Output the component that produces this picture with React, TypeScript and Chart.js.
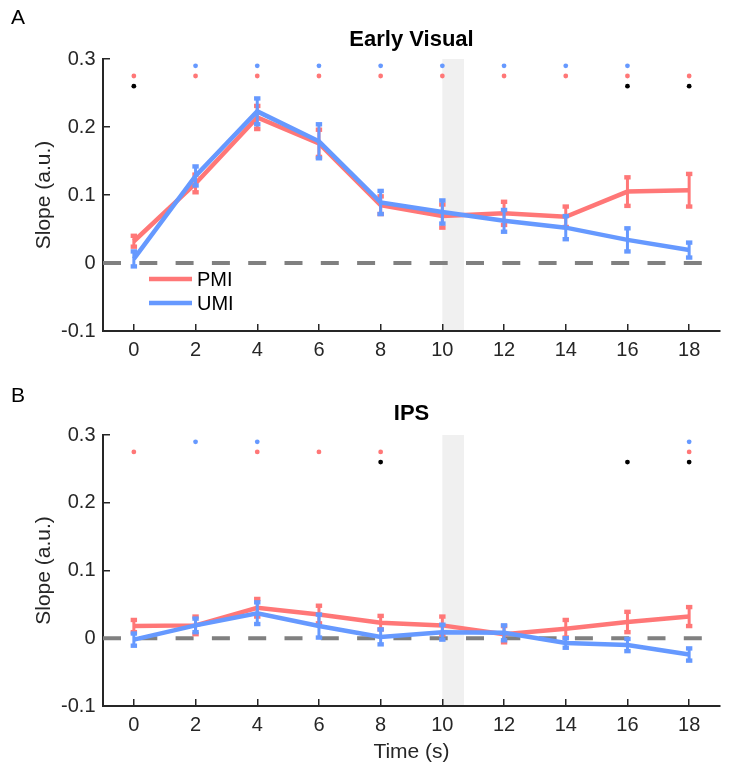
import React, { useEffect, useRef } from "react";
import { Chart, registerables } from "chart.js";

Chart.register(...registerables);

// ---------- data ----------
const times = [0, 2, 4, 6, 8, 10, 12, 14, 16, 18];
const xTicks = [0, 2, 4, 6, 8, 10, 12, 14, 16, 18];
const xTickLabels = ["0", "2", "4", "6", "8", "10", "12", "14", "16", "18"];
const yTicks = [-0.1, 0, 0.1, 0.2, 0.3];
const yTickLabels = ["-0.1", "0", "0.1", "0.2", "0.3"];
const seriesLabels = ["PMI", "UMI"];
const panelTitles = ["Early Visual", "IPS"];
const panelLetters = ["A", "B"];
const xAxisTitle = "Time (s)";
const yAxisTitle = "Slope (a.u.)";
const shadeRange = [10, 10.7];

// Panel A (Early Visual)
const pmiA = [0.032, 0.117, 0.214, 0.176, 0.085, 0.069, 0.073, 0.068, 0.105, 0.107];
const pmiErrA = [0.008, 0.013, 0.017, 0.02, 0.013, 0.017, 0.017, 0.015, 0.021, 0.024];
const umiA = [0.006, 0.128, 0.223, 0.179, 0.089, 0.075, 0.062, 0.052, 0.034, 0.019];
const umiErrA = [0.011, 0.014, 0.019, 0.025, 0.017, 0.017, 0.016, 0.017, 0.017, 0.011];
const sigUmiA = [2, 4, 6, 8, 10, 12, 14, 16];
const sigPmiA = [0, 2, 4, 6, 8, 10, 12, 14, 16, 18];
const sigDiffA = [0, 16, 18];

// Panel B (IPS)
const pmiB = [0.018, 0.019, 0.045, 0.035, 0.023, 0.019, 0.006, 0.014, 0.024, 0.032];
const pmiErrB = [0.009, 0.013, 0.013, 0.013, 0.01, 0.013, 0.012, 0.013, 0.015, 0.014];
const umiB = [-0.002, 0.019, 0.037, 0.018, 0.002, 0.009, 0.008, -0.007, -0.01, -0.024];
const umiErrB = [0.009, 0.01, 0.016, 0.017, 0.011, 0.011, 0.011, 0.007, 0.009, 0.009];
const sigUmiB = [2, 4, 18];
const sigPmiB = [0, 4, 6, 8, 18];
const sigDiffB = [8, 16, 18];

// significance row levels (data units)
const sigLevelUmi = 0.29;
const sigLevelPmi = 0.275;
const sigLevelDiff = 0.26;

// ---------- style ----------
const RED = "#FF7777";
const BLUE = "#6699FF";
const AXIS = "#262626";
const FONT = "'Liberation Sans', Arial, Helvetica, sans-serif";

const shadePlugin = {
  id: "shade",
  beforeDraw(chart: any) {
    const { ctx, chartArea, scales } = chart;
    const x1 = scales.x.getPixelForValue(shadeRange[0]);
    const x2 = scales.x.getPixelForValue(shadeRange[1]);
    ctx.save();
    ctx.fillStyle = "#f0f0f0";
    ctx.fillRect(x1, chartArea.top, x2 - x1, chartArea.bottom - chartArea.top);
    ctx.restore();
  },
};

const zeroLinePlugin = {
  id: "zeroLine",
  beforeDatasetsDraw(chart: any) {
    const { ctx, chartArea, scales } = chart;
    const y = scales.y.getPixelForValue(0);
    ctx.save();
    ctx.strokeStyle = "#808080";
    ctx.lineWidth = 4;
    ctx.setLineDash([18, 18.3]);
    ctx.beginPath();
    ctx.moveTo(chartArea.left, y);
    ctx.lineTo(chartArea.right, y);
    ctx.stroke();
    ctx.restore();
  },
};

const errorBarPlugin = {
  id: "errorBars",
  afterDatasetDraw(chart: any, args: any) {
    const ds: any = chart.data.datasets[args.index];
    if (!ds.err) return;
    const { ctx, scales } = chart;
    ctx.save();
    ctx.strokeStyle = ds.borderColor;
    ctx.fillStyle = ds.borderColor;
    ctx.lineWidth = 3;
    ds.data.forEach((pt: any, i: number) => {
      const x = scales.x.getPixelForValue(pt.x);
      const yT = scales.y.getPixelForValue(pt.y + ds.err[i]);
      const yB = scales.y.getPixelForValue(pt.y - ds.err[i]);
      ctx.beginPath();
      ctx.moveTo(x, yT);
      ctx.lineTo(x, yB);
      ctx.stroke();
      ctx.fillRect(x - 3.2, yT - 2.2, 6.4, 4.4);
      ctx.fillRect(x - 3.2, yB - 2.2, 6.4, 4.4);
    });
    ctx.restore();
  },
};

const legendPlugin = {
  id: "innerLegend",
  afterDraw(chart: any, _args: any, opts: any) {
    if (!opts || !opts.show) return;
    const { ctx, chartArea } = chart;
    const series = chart.data.datasets.filter((d: any) => d.err);
    ctx.save();
    series.forEach((d: any, i: number) => {
      const y = chartArea.bottom - 52 + i * 24;
      ctx.strokeStyle = d.borderColor;
      ctx.lineWidth = 4.5;
      ctx.beginPath();
      ctx.moveTo(chartArea.left + 46, y);
      ctx.lineTo(chartArea.left + 89, y);
      ctx.stroke();
      ctx.fillStyle = "#000";
      ctx.font = `20px ${FONT}`;
      ctx.textAlign = "left";
      ctx.textBaseline = "middle";
      ctx.fillText(d.label, chartArea.left + 94, y + 1);
    });
    ctx.restore();
  },
};

const letterPlugin = {
  id: "panelLetter",
  afterDraw(chart: any, _args: any, opts: any) {
    if (!opts || !opts.text) return;
    const { ctx } = chart;
    ctx.save();
    ctx.fillStyle = "#000";
    ctx.font = `21px ${FONT}`;
    ctx.textAlign = "left";
    ctx.textBaseline = "middle";
    ctx.fillText(opts.text, 11, opts.y);
    ctx.restore();
  },
};

type PanelProps = {
  idx: number;
  pmi: number[];
  pmiErr: number[];
  umi: number[];
  umiErr: number[];
  sigUmi: number[];
  sigPmi: number[];
  sigDiff: number[];
  height: number;
  xAxisHeight: number;
  titlePad: { top: number; bottom: number };
  showXTitle: boolean;
  showLegend: boolean;
  letterY: number;
};

function Panel(p: PanelProps) {
  const ref = useRef<HTMLCanvasElement | null>(null);
  useEffect(() => {
    if (!ref.current) return;
    const lineDs = (label: string, vals: number[], err: number[], color: string, order: number) => ({
      type: "line",
      label,
      data: times.map((t, i) => ({ x: t, y: vals[i] })),
      err,
      borderColor: color,
      backgroundColor: color,
      borderWidth: 4.5,
      pointRadius: 0,
      tension: 0,
      order,
      clip: false,
    });
    const dotDs = (xs: number[], level: number, color: string) => ({
      type: "scatter",
      label: "",
      data: xs.map((x) => ({ x, y: level })),
      pointRadius: 2.4,
      pointBackgroundColor: color,
      pointBorderWidth: 0,
      borderColor: color,
      showLine: false,
      order: 0,
      clip: false,
    });
    const tickFont = { family: FONT, size: 20 };
    const chart = new Chart(ref.current, {
      type: "line",
      data: {
        datasets: [
          lineDs(seriesLabels[0], p.pmi, p.pmiErr, RED, 2),
          lineDs(seriesLabels[1], p.umi, p.umiErr, BLUE, 1),
          dotDs(p.sigUmi, sigLevelUmi, BLUE),
          dotDs(p.sigPmi, sigLevelPmi, RED),
          dotDs(p.sigDiff, sigLevelDiff, "#000000"),
        ] as any,
      },
      options: {
        responsive: false,
        animation: false,
        devicePixelRatio: 1,
        layout: { padding: { left: 0, right: 29, top: 0, bottom: 0 } },
        plugins: {
          legend: { display: false },
          tooltip: { enabled: false },
          title: {
            display: true,
            text: panelTitles[p.idx],
            fullSize: false,
            color: "#000",
            font: { family: FONT, size: 22, weight: "bold" },
            padding: p.titlePad,
          },
          innerLegend: { show: p.showLegend },
          panelLetter: { text: panelLetters[p.idx], y: p.letterY },
        } as any,
        scales: {
          x: {
            type: "linear",
            min: -1,
            max: 19,
            afterBuildTicks: (s: any) => {
              s.ticks = xTicks.map((v) => ({ value: v }));
            },
            afterFit: (s: any) => {
              s.height = p.xAxisHeight;
            },
            ticks: {
              callback: (_v: any, i: number) => xTickLabels[i],
              font: tickFont,
              color: AXIS,
              padding: 14.5,
              maxRotation: 0,
              autoSkip: false,
            },
            grid: {
              display: true,
              drawOnChartArea: false,
              drawTicks: true,
              tickLength: -7,
              color: AXIS,
              lineWidth: 1.5,
            },
            border: { display: true, color: AXIS, width: 2 },
            title: {
              display: p.showXTitle,
              text: xAxisTitle,
              color: AXIS,
              font: { family: FONT, size: 21 },
              padding: { top: 0, bottom: 11.4 },
            },
          },
          y: {
            type: "linear",
            min: -0.1,
            max: 0.3,
            afterBuildTicks: (s: any) => {
              s.ticks = yTicks.map((v) => ({ value: v }));
            },
            afterFit: (s: any) => {
              s.width = 103;
            },
            ticks: {
              callback: (_v: any, i: number) => yTickLabels[i],
              font: tickFont,
              color: AXIS,
              padding: 14.5,
              autoSkip: false,
            },
            grid: {
              display: true,
              drawOnChartArea: false,
              drawTicks: true,
              tickLength: -7,
              color: AXIS,
              lineWidth: 1.5,
            },
            border: { display: true, color: AXIS, width: 2 },
            title: {
              display: true,
              text: yAxisTitle,
              color: AXIS,
              font: { family: FONT, size: 21 },
              padding: { top: 31.4, bottom: 0 },
            },
          },
        },
      } as any,
      plugins: [shadePlugin, zeroLinePlugin, errorBarPlugin, legendPlugin, letterPlugin],
    });
    return () => chart.destroy();
  }, []);
  return (
    <canvas
      ref={ref}
      width={749}
      height={p.height}
      style={{ display: "block", width: 749, height: p.height }}
    />
  );
}

export default function App() {
  return (
    <div style={{ position: "absolute", left: 0, top: 0, width: 749, height: 776, background: "#fff" }}>
      <Panel
        idx={0}
        pmi={pmiA}
        pmiErr={pmiErrA}
        umi={umiA}
        umiErr={umiErrA}
        sigUmi={sigUmiA}
        sigPmi={sigPmiA}
        sigDiff={sigDiffA}
        height={380}
        xAxisHeight={49}
        titlePad={{ top: 26.8, bottom: 5.8 }}
        showXTitle={false}
        showLegend={true}
        letterY={18}
      />
      <Panel
        idx={1}
        pmi={pmiB}
        pmiErr={pmiErrB}
        umi={umiB}
        umiErr={umiErrB}
        sigUmi={sigUmiB}
        sigPmi={sigPmiB}
        sigDiff={sigDiffB}
        height={396}
        xAxisHeight={70}
        titlePad={{ top: 20.8, bottom: 7.8 }}
        showXTitle={true}
        showLegend={false}
        letterY={16}
      />
    </div>
  );
}
